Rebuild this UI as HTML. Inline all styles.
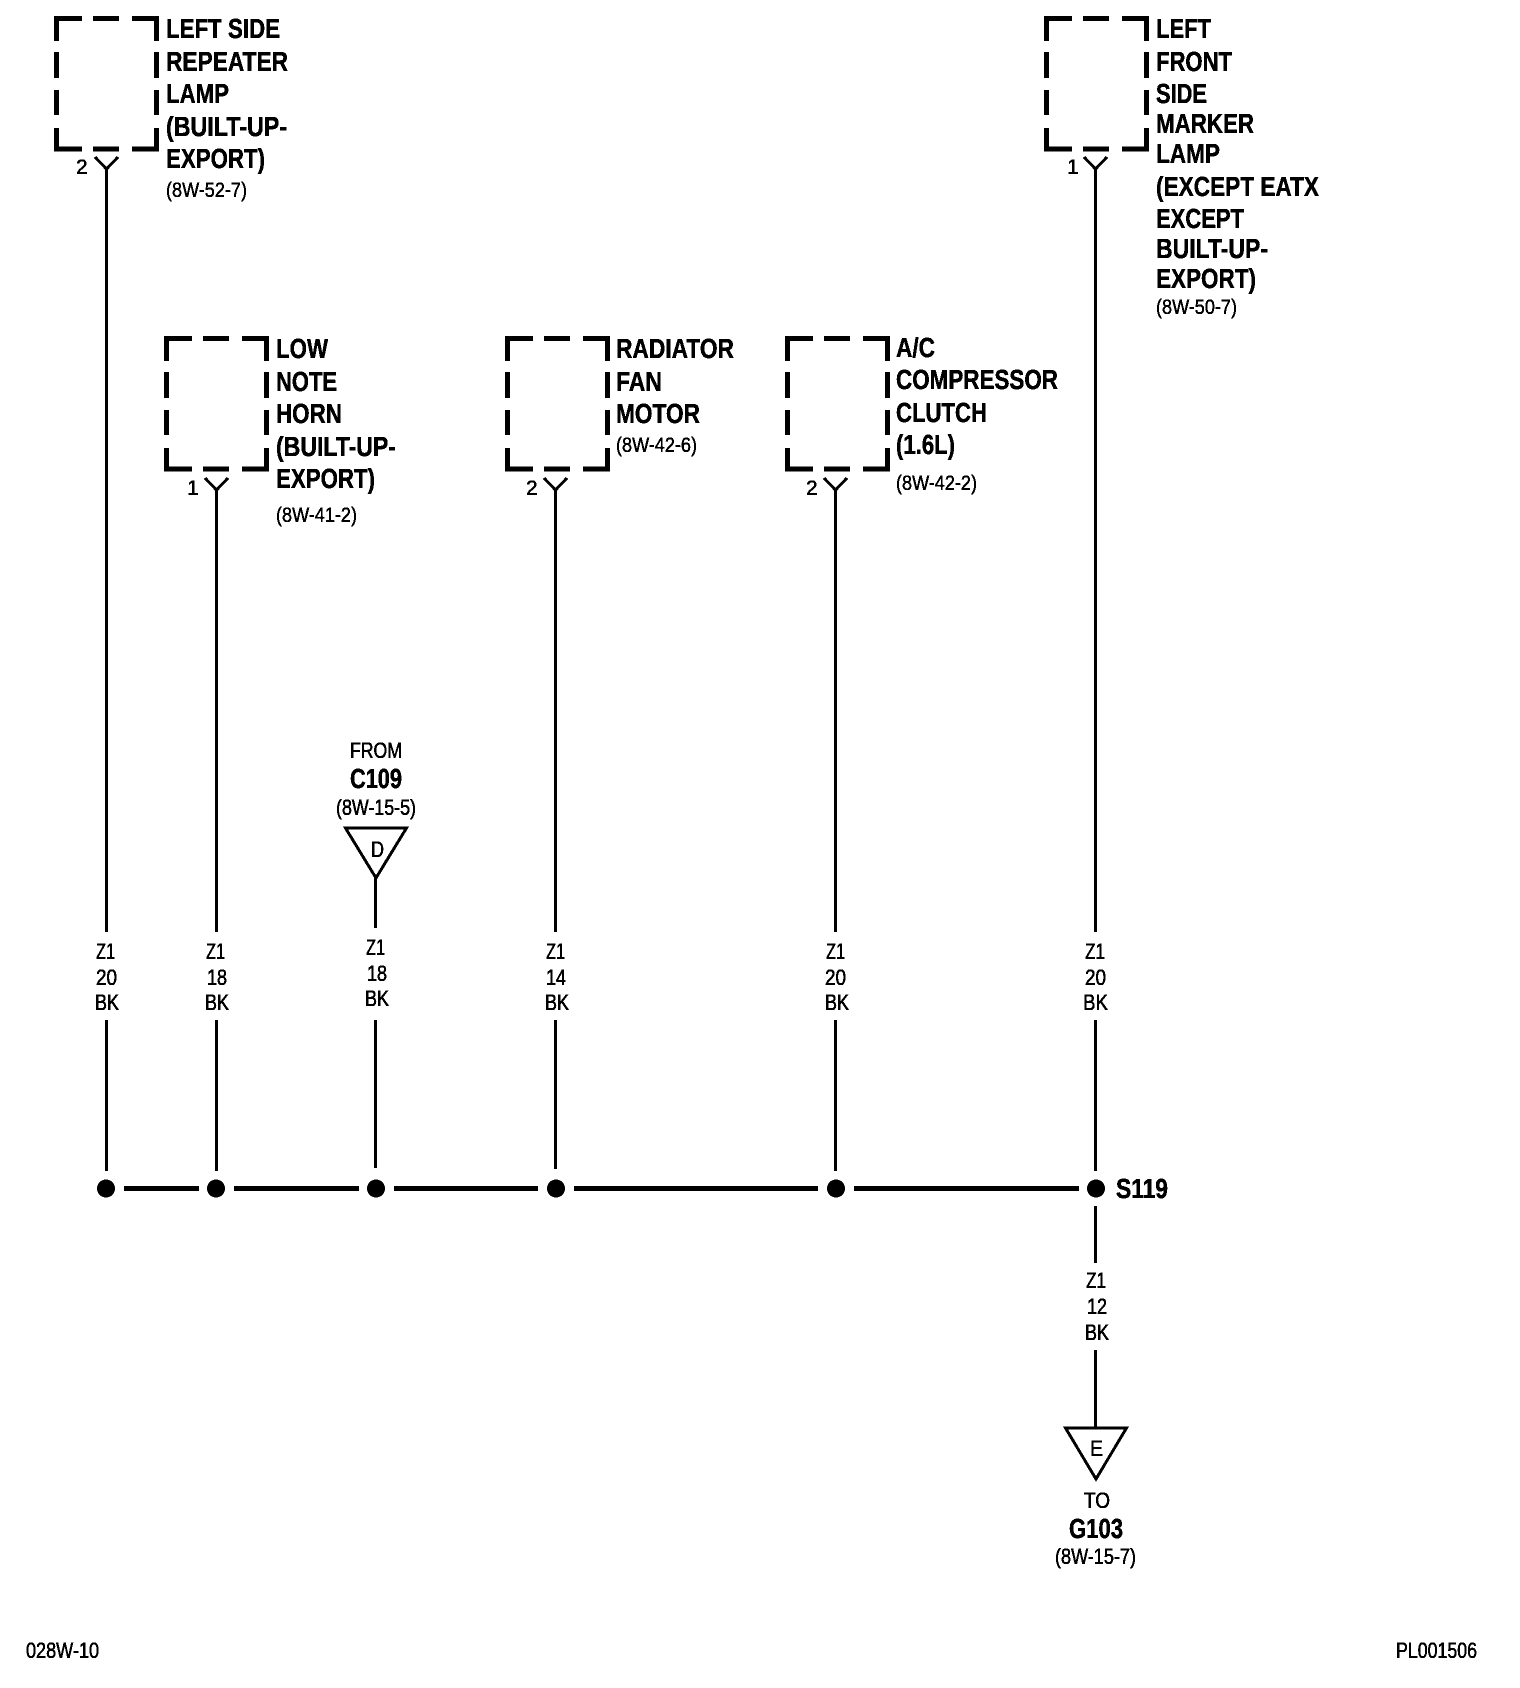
<!DOCTYPE html>
<html><head><meta charset="utf-8"><style>
html,body{margin:0;padding:0;background:#fff}
svg{display:block}
text{fill:#000;font-family:"Liberation Sans",Arial,sans-serif}
.b{font-weight:700;font-size:28px;stroke:#000;stroke-width:.5}
.n{font-size:22px;stroke:#000;stroke-width:.6}
.s{font-size:21px;stroke:#000;stroke-width:.5}
.w{stroke:#000;stroke-width:3;fill:none}
.bus{stroke:#000;stroke-width:5;fill:none}
.bx{stroke:#000;stroke-width:5;fill:none}
</style></head><body>
<svg width="1520" height="1688" viewBox="0 0 1520 1688" xmlns="http://www.w3.org/2000/svg">
<defs>
<filter id="bw" x="0" y="0" width="100%" height="100%" color-interpolation-filters="sRGB"><feComponentTransfer><feFuncR type="discrete" tableValues="0 0 1 1"/><feFuncG type="discrete" tableValues="0 0 1 1"/><feFuncB type="discrete" tableValues="0 0 1 1"/></feComponentTransfer></filter>
<g id="box">
<path class="bx" d="M0 22.500V0H25.500M36.500 0H62.500M75.500 0H100V22.500M100 33.500V59.500M100 71.500V96.500M100 109.500V130.500H75.500M62.500 130.500H36.500M25.500 130.500H0V109.500M0 96.500V71.500M0 59.500V33.500" transform="translate(2.5,2.5)"/>
</g>
</defs>
<g filter="url(#bw)">
<rect width="1520" height="1688" fill="#fff"/>

<!-- boxes -->
<use href="#box" x="54" y="16"/>
<use href="#box" x="1044" y="16"/>
<use href="#box" x="164" y="336"/>
<use href="#box" x="505" y="336"/>
<use href="#box" x="785" y="336"/>

<!-- connectors -->
<path class="w" d="M95 157L106.500 169L118 157M106.500 169V932M106.500 1020V1171"/>
<path class="w" d="M205 478L216.500 490L228 478M216.500 490V932M216.500 1020V1171"/>
<path class="w" d="M544 478L555.500 490L567 478M555.500 490V932M555.500 1020V1169"/>
<path class="w" d="M824 478L835.500 490L847 478M835.500 490V932M835.500 1020V1171"/>
<path class="w" d="M1084 157L1095.500 169L1107 157M1095.500 169V932M1095.500 1020V1171M1095.500 1206V1263M1095.500 1350V1428"/>
<path class="w" d="M375.500 878V928M375.500 1020V1168"/>

<!-- triangles -->
<path class="w" d="M345.500 828H406.500L376 878Z"/>
<path class="w" d="M1065.500 1428H1126.500L1096 1479Z"/>

<!-- bus -->
<path class="bus" d="M124 1188.500H199M234 1188.500H359M394 1188.500H538M574 1188.500H818M854 1188.500H1079"/>
<circle cx="106" cy="1188.500" r="9"/>
<circle cx="216" cy="1188.500" r="9"/>
<circle cx="376" cy="1188.500" r="9"/>
<circle cx="556" cy="1188.500" r="9"/>
<circle cx="836" cy="1188.500" r="9"/>
<circle cx="1096" cy="1188.500" r="9"/>

<!-- label: left side repeater -->
<text class="b" x="166" y="38" textLength="114" lengthAdjust="spacingAndGlyphs">LEFT SIDE</text>
<text class="b" x="166" y="71" textLength="122" lengthAdjust="spacingAndGlyphs">REPEATER</text>
<text class="b" x="166" y="103" textLength="63" lengthAdjust="spacingAndGlyphs">LAMP</text>
<text class="b" x="166" y="136" textLength="121" lengthAdjust="spacingAndGlyphs">(BUILT-UP-</text>
<text class="b" x="166" y="168" textLength="99" lengthAdjust="spacingAndGlyphs">EXPORT)</text>
<text class="s" x="166" y="197" textLength="81" lengthAdjust="spacingAndGlyphs">(8W-52-7)</text>
<text class="s" x="76" y="174">2</text>

<!-- label: low note horn -->
<text class="b" x="276" y="358" textLength="52" lengthAdjust="spacingAndGlyphs">LOW</text>
<text class="b" x="276" y="391" textLength="61" lengthAdjust="spacingAndGlyphs">NOTE</text>
<text class="b" x="276" y="423" textLength="66" lengthAdjust="spacingAndGlyphs">HORN</text>
<text class="b" x="276" y="456" textLength="120" lengthAdjust="spacingAndGlyphs">(BUILT-UP-</text>
<text class="b" x="276" y="488" textLength="99" lengthAdjust="spacingAndGlyphs">EXPORT)</text>
<text class="s" x="276" y="522" textLength="81" lengthAdjust="spacingAndGlyphs">(8W-41-2)</text>
<text class="s" x="187" y="495">1</text>

<!-- label: radiator -->
<text class="b" x="616" y="358" textLength="118" lengthAdjust="spacingAndGlyphs">RADIATOR</text>
<text class="b" x="616" y="391" textLength="46" lengthAdjust="spacingAndGlyphs">FAN</text>
<text class="b" x="616" y="423" textLength="84" lengthAdjust="spacingAndGlyphs">MOTOR</text>
<text class="s" x="616" y="452" textLength="81" lengthAdjust="spacingAndGlyphs">(8W-42-6)</text>
<text class="s" x="526" y="495">2</text>

<!-- label: a/c -->
<text class="b" x="896" y="357" textLength="39" lengthAdjust="spacingAndGlyphs">A/C</text>
<text class="b" x="896" y="389" textLength="162" lengthAdjust="spacingAndGlyphs">COMPRESSOR</text>
<text class="b" x="896" y="422" textLength="91" lengthAdjust="spacingAndGlyphs">CLUTCH</text>
<text class="b" x="896" y="454" textLength="59" lengthAdjust="spacingAndGlyphs">(1.6L)</text>
<text class="s" x="896" y="490" textLength="81" lengthAdjust="spacingAndGlyphs">(8W-42-2)</text>
<text class="s" x="806" y="495">2</text>

<!-- label: left front side marker -->
<text class="b" x="1156" y="38" textLength="55" lengthAdjust="spacingAndGlyphs">LEFT</text>
<text class="b" x="1156" y="71" textLength="76" lengthAdjust="spacingAndGlyphs">FRONT</text>
<text class="b" x="1156" y="103" textLength="51" lengthAdjust="spacingAndGlyphs">SIDE</text>
<text class="b" x="1156" y="133" textLength="98" lengthAdjust="spacingAndGlyphs">MARKER</text>
<text class="b" x="1156" y="163" textLength="64" lengthAdjust="spacingAndGlyphs">LAMP</text>
<text class="b" x="1156" y="196" textLength="163" lengthAdjust="spacingAndGlyphs">(EXCEPT EATX</text>
<text class="b" x="1156" y="228" textLength="88" lengthAdjust="spacingAndGlyphs">EXCEPT</text>
<text class="b" x="1156" y="258" textLength="112" lengthAdjust="spacingAndGlyphs">BUILT-UP-</text>
<text class="b" x="1156" y="288" textLength="100" lengthAdjust="spacingAndGlyphs">EXPORT)</text>
<text class="s" x="1156" y="314" textLength="81" lengthAdjust="spacingAndGlyphs">(8W-50-7)</text>
<text class="s" x="1067" y="174">1</text>

<!-- from c109 -->
<text class="n" x="350" y="758" textLength="52" lengthAdjust="spacingAndGlyphs">FROM</text>
<text class="b" x="350" y="788" textLength="52" lengthAdjust="spacingAndGlyphs">C109</text>
<text class="n" x="336" y="815" textLength="80" lengthAdjust="spacingAndGlyphs">(8W-15-5)</text>
<text class="n" x="371" y="857" textLength="13" lengthAdjust="spacingAndGlyphs">D</text>

<!-- wire labels -->
<text class="n" x="96" y="959" textLength="19" lengthAdjust="spacingAndGlyphs">Z1</text>
<text class="n" x="96" y="985" textLength="21" lengthAdjust="spacingAndGlyphs">20</text>
<text class="n" x="95" y="1010" textLength="24" lengthAdjust="spacingAndGlyphs">BK</text>

<text class="n" x="206" y="959" textLength="19" lengthAdjust="spacingAndGlyphs">Z1</text>
<text class="n" x="207" y="985" textLength="20" lengthAdjust="spacingAndGlyphs">18</text>
<text class="n" x="205" y="1010" textLength="24" lengthAdjust="spacingAndGlyphs">BK</text>

<text class="n" x="366" y="955" textLength="19" lengthAdjust="spacingAndGlyphs">Z1</text>
<text class="n" x="367" y="981" textLength="20" lengthAdjust="spacingAndGlyphs">18</text>
<text class="n" x="365" y="1006" textLength="24" lengthAdjust="spacingAndGlyphs">BK</text>

<text class="n" x="546" y="959" textLength="19" lengthAdjust="spacingAndGlyphs">Z1</text>
<text class="n" x="546" y="985" textLength="20" lengthAdjust="spacingAndGlyphs">14</text>
<text class="n" x="545" y="1010" textLength="24" lengthAdjust="spacingAndGlyphs">BK</text>

<text class="n" x="826" y="959" textLength="19" lengthAdjust="spacingAndGlyphs">Z1</text>
<text class="n" x="825" y="985" textLength="21" lengthAdjust="spacingAndGlyphs">20</text>
<text class="n" x="825" y="1010" textLength="24" lengthAdjust="spacingAndGlyphs">BK</text>

<text class="n" x="1085" y="959" textLength="20" lengthAdjust="spacingAndGlyphs">Z1</text>
<text class="n" x="1085" y="985" textLength="21" lengthAdjust="spacingAndGlyphs">20</text>
<text class="n" x="1083" y="1010" textLength="25" lengthAdjust="spacingAndGlyphs">BK</text>

<text class="n" x="1086" y="1288" textLength="20" lengthAdjust="spacingAndGlyphs">Z1</text>
<text class="n" x="1087" y="1314" textLength="20" lengthAdjust="spacingAndGlyphs">12</text>
<text class="n" x="1085" y="1340" textLength="24" lengthAdjust="spacingAndGlyphs">BK</text>

<!-- s119 + g103 -->
<text class="b" x="1116" y="1198" textLength="52" lengthAdjust="spacingAndGlyphs">S119</text>
<text class="n" x="1090" y="1456" textLength="13" lengthAdjust="spacingAndGlyphs">E</text>
<text class="n" x="1084" y="1508" textLength="26" lengthAdjust="spacingAndGlyphs">TO</text>
<text class="b" x="1069" y="1538" textLength="54" lengthAdjust="spacingAndGlyphs">G103</text>
<text class="n" x="1055" y="1564" textLength="81" lengthAdjust="spacingAndGlyphs">(8W-15-7)</text>

<!-- footer -->
<text class="n" x="26" y="1658" textLength="73" lengthAdjust="spacingAndGlyphs">028W-10</text>
<text class="n" x="1396" y="1658" textLength="81" lengthAdjust="spacingAndGlyphs">PL001506</text>
</g>
</svg>
</body></html>
